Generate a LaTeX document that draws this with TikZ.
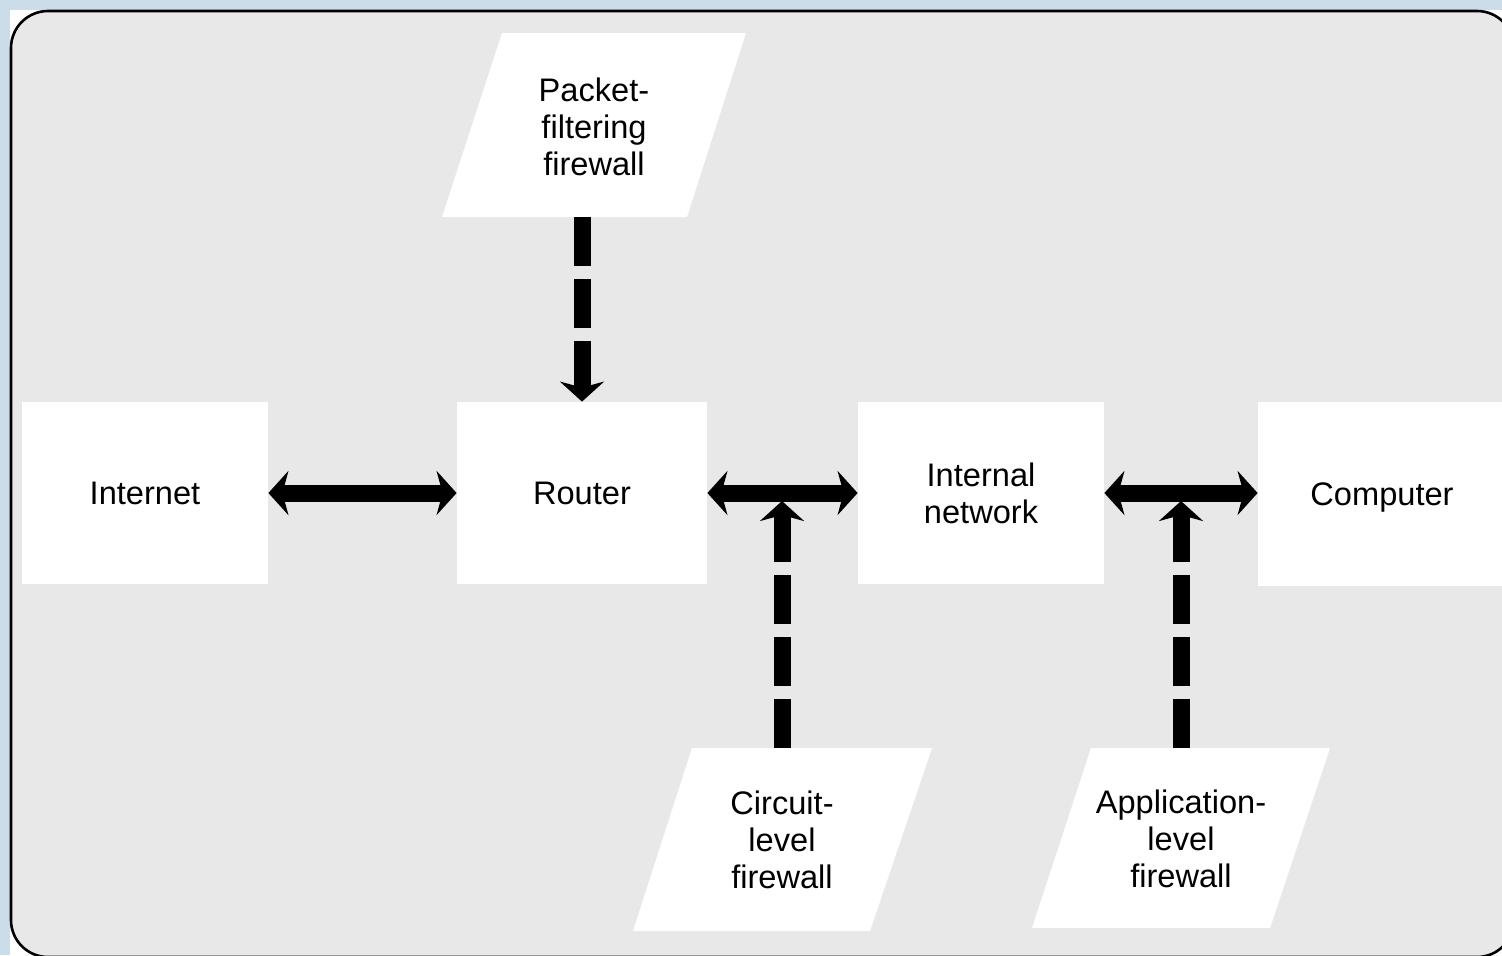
\documentclass[tikz,border=0pt]{standalone}
\usepackage{fontspec}
\setmainfont{Liberation Sans}
\usetikzlibrary{arrows.meta}
\definecolor{bgblue}{RGB}{202,221,233}
\definecolor{panel}{RGB}{232,232,232}
\begin{document}
\begin{tikzpicture}[x=0.5pt,y=-0.5pt,
  txt/.style={inner sep=0pt,font=\fontsize{16.3}{18.5}\selectfont,align=center},
  box/.style={txt,fill=white,minimum height=91pt,text depth=-1pt},
  para/.style={fill=white},
  link/.style={line width=8.5pt,{Stealth[length=10pt,width=22pt,inset=3pt]}-{Stealth[length=10pt,width=22pt,inset=3pt]}},
  feed/.style={line width=8.5pt,dash pattern=on 24.5pt off 6.5pt,-{Stealth[length=10pt,width=22pt,inset=3pt]}}]
\useasboundingbox (0,0) rectangle (1502,955);
\fill[bgblue] (0,0) rectangle (1502,955);
\begin{scope}
  \clip (0,0) rectangle (1502,955);
  \fill[white] (10,10) rectangle (1530,970);
  \draw[line width=1.3pt,fill=panel,rounded corners=18.5pt] (11,11) rectangle (1514,957);
\end{scope}
% boxes
\node[box,minimum width=123pt] (inet) at (145,493) {Internet};
\node[box,minimum width=125pt] (router) at (582,493) {Router};
\node[box,minimum width=123pt] (intnet) at (981,493) {Internal\\network};
\node[box,minimum width=124pt,minimum height=92pt] (comp) at (1382,494) {Computer};
% parallelograms
\fill[para] (442,217) -- (687,217) -- (746,33) -- (502,33) -- cycle;
\node[txt] (pf) at (594,126.5) {Packet-\\filtering\\firewall};
\fill[para] (633,931) -- (870,931) -- (932,748) -- (692,748) -- cycle;
\node[txt] (cf) at (782,839.5) {Circuit-\\level\\firewall};
\fill[para] (1032,928) -- (1270,928) -- (1330,748) -- (1091,748) -- cycle;
\node[txt] (af) at (1181,838.5) {Application-\\level\\firewall};
% anchor coordinates
\coordinate (pfb) at (582,217);
\coordinate (cft) at (782,748);
\coordinate (aft) at (1181,748);
\coordinate (j1) at (782,501);
\coordinate (j2) at (1181,501);
% connectors
\draw[link] (inet.east) -- (router.west);
\draw[link] (router.east) -- (intnet.west);
\draw[link] (intnet.east) -- (comp.west |- intnet.east);
\draw[feed] (pfb) -- (router.north);
\draw[feed] (cft) -- (j1);
\draw[feed] (aft) -- (j2);
\end{tikzpicture}
\end{document}
